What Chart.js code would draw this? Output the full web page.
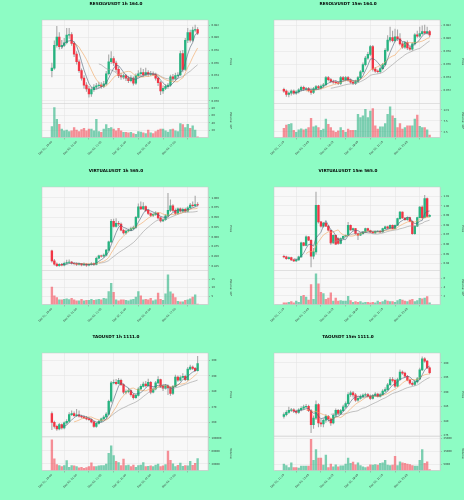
<!DOCTYPE html>
<html>
<head>
<meta charset="utf-8">
<script src="https://cdn.jsdelivr.net/npm/chart.js@4.4.1/dist/chart.umd.min.js"></script>
<style>
  html, body { margin: 0; padding: 0; background: #8dfcc4; }
  #wrap { position: relative; width: 464px; height: 500px; overflow: hidden; }
  .cell { position: absolute; width: 232px; height: 167px; }
</style>
</head>
<body>
<div id="wrap"></div>
<script>
// x tick labels (every 10th candle)
const ticks1h = ['Dec 01, 15:00', 'Dec 02, 01:00', 'Dec 02, 11:00', 'Dec 02, 21:00', 'Dec 03, 07:00', 'Dec 03, 17:00'];
const ticks15m = ['Dec 03, 11:15', 'Dec 03, 13:45', 'Dec 03, 16:15', 'Dec 03, 18:45', 'Dec 03, 21:15', 'Dec 03, 23:45'];

// ---- RESOLVUSDT 1h ----
const resolv1hOpen = [
  .07480,.07520,.07880,.08010,.07860,.07880,.07920,.08040,.08050,.07910,
  .07740,.07620,.07480,.07360,.07250,.07190,.07110,.07180,.07220,.07240,
  .07250,.07230,.07270,.07430,.07620,.07670,.07600,.07500,.07400,.07380,
  .07400,.07360,.07320,.07360,.07280,.07400,.07430,.07450,.07410,.07450,
  .07420,.07430,.07420,.07360,.07290,.07160,.07200,.07230,.07250,.07380,
  .07350,.07400,.07410,.07750,.07500,.07960,.08080,.07960,.08120,.08130];
const resolv1hHigh = [
  .07600,.07950,.08180,.08080,.07960,.07990,.08150,.08150,.08080,.07940,
  .07780,.07650,.07510,.07400,.07290,.07230,.07210,.07260,.07280,.07300,
  .07290,.07310,.07470,.07730,.07780,.07700,.07630,.07540,.07440,.07430,
  .07420,.07390,.07400,.07380,.07430,.07480,.07520,.07500,.07520,.07480,
  .07470,.07460,.07440,.07380,.07310,.07240,.07260,.07280,.07410,.07420,
  .07440,.07450,.07790,.07800,.07990,.08150,.08120,.08170,.08200,.08160];
const resolv1hLow = [
  .07380,.07500,.07850,.07820,.07830,.07860,.07900,.07990,.07880,.07700,
  .07580,.07450,.07330,.07200,.07150,.07060,.07070,.07150,.07190,.07210,
  .07200,.07210,.07250,.07410,.07590,.07560,.07460,.07370,.07340,.07350,
  .07320,.07290,.07300,.07250,.07260,.07380,.07400,.07390,.07400,.07390,
  .07400,.07400,.07330,.07240,.07100,.07120,.07180,.07200,.07230,.07320,
  .07330,.07380,.07400,.07460,.07480,.07920,.07930,.07940,.08090,.08050];
const resolv1hClose = [
  .07520,.07880,.08010,.07860,.07880,.07920,.08040,.08050,.07910,.07740,
  .07620,.07480,.07360,.07250,.07190,.07110,.07180,.07220,.07240,.07250,
  .07230,.07270,.07430,.07620,.07670,.07600,.07500,.07400,.07380,.07400,
  .07360,.07320,.07360,.07280,.07400,.07430,.07450,.07410,.07450,.07420,
  .07430,.07420,.07360,.07290,.07160,.07200,.07230,.07250,.07380,.07350,
  .07400,.07410,.07750,.07500,.07960,.08080,.07960,.08120,.08130,.08070];
const resolv1hVolume = [ // x 1e6
  30,82,50,36,23,18,20,16,18,27,
  20,16,22,25,18,23,23,18,50,16,
  14,23,35,25,27,23,18,25,18,14,
  14,13,14,11,9,16,15,13,11,20,
  13,11,16,20,23,23,18,15,22,23,
  18,16,38,35,27,36,25,32,20,2];
const resolv1hPriceTicks = [0.070, 0.072, 0.074, 0.076, 0.078, 0.080, 0.082];
const resolv1hVolTicks = [20, 40, 60, 80];

// ---- RESOLVUSDT 15m ----
const resolv15mOpen = [
  .0722,.0719,.0714,.0716,.0719,.0716,.0718,.0721,.0725,.0722,
  .0723,.0720,.0717,.0723,.0726,.0724,.0727,.0729,.0740,.0737,
  .0734,.0733,.0732,.0731,.0740,.0737,.0740,.0736,.0733,.0731,
  .0734,.0740,.0749,.0760,.0770,.0776,.0788,.0753,.0750,.0749,
  .0754,.0760,.0782,.0798,.0802,.0797,.0803,.0800,.0792,.0787,
  .0794,.0786,.0784,.0792,.0806,.0804,.0808,.0811,.0809,.0811];
const resolv15mHigh = [
  .0724,.0721,.0718,.0721,.0721,.0720,.0723,.0727,.0727,.0725,
  .0725,.0724,.0725,.0728,.0728,.0729,.0731,.0742,.0742,.0739,
  .0736,.0735,.0734,.0742,.0742,.0742,.0742,.0738,.0735,.0736,
  .0742,.0751,.0763,.0773,.0779,.0790,.0790,.0756,.0752,.0756,
  .0762,.0785,.0805,.0818,.0812,.0815,.0814,.0808,.0795,.0796,
  .0797,.0788,.0794,.0808,.0812,.0818,.0820,.0821,.0818,.0813];
const resolv15mLow = [
  .0717,.0711,.0710,.0713,.0714,.0714,.0716,.0719,.0720,.0720,
  .0718,.0714,.0715,.0721,.0722,.0722,.0725,.0727,.0735,.0732,
  .0731,.0730,.0729,.0729,.0735,.0735,.0734,.0731,.0729,.0729,
  .0732,.0738,.0747,.0758,.0768,.0774,.0750,.0748,.0747,.0747,
  .0752,.0758,.0780,.0795,.0795,.0795,.0797,.0790,.0785,.0785,
  .0783,.0782,.0782,.0790,.0802,.0802,.0806,.0807,.0807,.0803];
const resolv15mClose = [
  .0719,.0714,.0716,.0719,.0716,.0718,.0721,.0725,.0722,.0723,
  .0720,.0717,.0723,.0726,.0724,.0727,.0729,.0740,.0737,.0734,
  .0733,.0732,.0731,.0740,.0737,.0740,.0736,.0733,.0731,.0734,
  .0740,.0749,.0760,.0770,.0776,.0788,.0753,.0750,.0749,.0754,
  .0760,.0782,.0798,.0802,.0797,.0803,.0800,.0792,.0787,.0794,
  .0786,.0784,.0792,.0806,.0804,.0808,.0811,.0809,.0811,.0806];
const resolv15mVolume = [ // x 1e6
  4.1,5.6,6.0,6.3,3.3,2.3,3.5,3.9,3.5,3.8,
  4.5,8.7,4.8,5.3,4.5,3.3,3.8,8.3,6.0,4.5,
  3.0,2.3,3.0,4.5,3.3,2.3,3.8,3.3,3.3,3.3,
  10.5,9.0,9.8,12.8,9.0,12.0,13.1,5.3,3.8,4.8,
  4.8,6.3,10.5,13.9,9.8,8.7,4.5,6.3,3.8,4.5,
  5.3,5.3,5.3,8.3,10.1,5.1,4.5,4.5,3.5,1.1];
const resolv15mPriceTicks = [0.072, 0.074, 0.076, 0.078, 0.080, 0.082];
const resolv15mVolTicks = [2.5, 5.0, 7.5, 10.0, 12.5, 15.0];

// ---- VIRTUALUSDT 1h ----
const virtual1hOpen = [
  .864,.838,.830,.826,.829,.827,.832,.834,.835,.832,
  .831,.829,.831,.828,.830,.827,.829,.831,.829,.845,
  .851,.850,.853,.866,.887,.940,.927,.935,.933,.917,
  .910,.915,.917,.921,.924,.950,.977,.972,.978,.968,
  .960,.955,.958,.961,.949,.941,.944,.954,.968,.980,
  .968,.960,.972,.966,.971,.966,.975,.982,.980,.983];
const virtual1hHigh = [
  .866,.842,.833,.831,.832,.835,.840,.841,.837,.834,
  .833,.833,.832,.833,.831,.831,.834,.833,.848,.853,
  .853,.856,.868,.889,.945,.946,.947,.940,.936,.920,
  .918,.920,.925,.928,.953,.985,.990,.988,.980,.970,
  .962,.961,.965,.963,.951,.947,.957,1.012,.995,.983,
  .972,.975,.975,.974,.974,.978,.986,.990,1.005,.988];
const virtual1hLow = [
  .835,.827,.823,.824,.825,.825,.830,.832,.830,.828,
  .826,.827,.825,.826,.824,.825,.827,.826,.828,.843,
  .848,.848,.851,.864,.885,.925,.925,.928,.915,.907,
  .907,.913,.915,.919,.922,.948,.970,.970,.965,.957,
  .952,.952,.955,.946,.938,.939,.942,.950,.965,.965,
  .957,.958,.963,.963,.963,.964,.973,.977,.978,.979];
const virtual1hClose = [
  .838,.830,.826,.829,.827,.832,.834,.835,.832,.831,
  .829,.831,.828,.830,.827,.829,.831,.829,.845,.851,
  .850,.853,.866,.887,.940,.927,.935,.933,.917,.910,
  .915,.917,.921,.924,.950,.977,.972,.978,.968,.960,
  .955,.958,.961,.949,.941,.944,.954,.968,.980,.968,
  .960,.972,.966,.971,.966,.975,.982,.980,.983,.982];
const virtual1hVolume = [ // x 1e6
  10.2,5.1,4.1,2.7,2.7,3.1,3.3,2.9,3.7,2.7,
  2.2,2.2,3.1,2.2,2.4,2.4,3.1,2.4,2.7,3.1,
  2.7,3.7,3.3,7.6,12.5,7.1,2.7,2.2,2.7,2.7,
  2.4,2.2,2.7,3.1,4.3,7.6,5.1,2.7,3.1,2.7,
  3.7,2.2,2.7,6.7,3.1,2.4,6.3,17.4,7.4,6.3,
  4.1,1.8,1.6,1.6,2.4,2.7,3.3,4.3,5.7,0.3];
const virtual1hPriceTicks = [0.825, 0.850, 0.875, 0.900, 0.925, 0.950, 0.975, 1.000];
const virtual1hVolTicks = [5, 10, 15];

// ---- VIRTUALUSDT 15m ----
const virtual15mOpen = [
  .9477,.9470,.9453,.9463,.9440,.9429,.9440,.9470,.9616,.9591,
  .9678,.9643,.9477,.9522,1.0007,.9834,.9789,.9823,.9790,.9747,
  .9616,.9695,.9660,.9610,.9661,.9685,.9695,.9799,.9750,.9764,
  .9712,.9695,.9712,.9730,.9764,.9745,.9728,.9719,.9737,.9740,
  .9730,.9764,.9782,.9770,.9799,.9765,.9799,.9868,.9937,.9875,
  .9858,.9880,.9840,.9712,.9789,.9879,.9989,.9879,1.0076,.9892];
const virtual15mHigh = [
  .9490,.9480,.9470,.9468,.9445,.9448,.9478,.9625,.9622,.9690,
  .9685,.9650,.9560,1.0145,1.0010,.9840,.9830,.9830,.9795,.9750,
  .9700,.9700,.9668,.9668,.9690,.9700,.9830,.9805,.9770,.9768,
  .9718,.9718,.9735,.9770,.9770,.9750,.9732,.9740,.9745,.9745,
  .9770,.9790,.9790,.9805,.9805,.9805,.9875,.9945,.9940,.9880,
  .9885,.9885,.9845,.9795,.9885,.9995,1.0000,1.0110,1.0085,.9910];
const virtual15mLow = [
  .9460,.9445,.9448,.9432,.9420,.9422,.9435,.9465,.9585,.9585,
  .9638,.9366,.9450,.9500,.9820,.9780,.9780,.9785,.9740,.9600,
  .9610,.9598,.9600,.9605,.9655,.9680,.9690,.9745,.9745,.9705,
  .9650,.9690,.9705,.9725,.9740,.9722,.9715,.9715,.9730,.9725,
  .9725,.9760,.9765,.9765,.9760,.9760,.9795,.9860,.9870,.9850,
  .9850,.9835,.9705,.9705,.9785,.9875,.9870,.9875,.9885,.9885];
const virtual15mClose = [
  .9470,.9453,.9463,.9440,.9429,.9440,.9470,.9616,.9591,.9678,
  .9643,.9477,.9522,1.0007,.9834,.9789,.9823,.9790,.9747,.9616,
  .9695,.9602,.9610,.9661,.9685,.9695,.9799,.9750,.9764,.9712,
  .9695,.9712,.9730,.9764,.9745,.9728,.9719,.9737,.9740,.9730,
  .9764,.9782,.9770,.9799,.9765,.9799,.9868,.9937,.9875,.9858,
  .9880,.9840,.9712,.9789,.9879,.9989,.9879,1.0076,.9892,.9903];
const virtual15mVolume = [ // x 1e6
  0.4,0.4,0.5,0.7,0.4,0.8,0.5,1.9,2.1,1.7,
  1.0,4.6,1.2,7.1,4.8,2.8,2.5,1.2,1.5,2.7,
  0.8,1.5,0.8,0.9,0.8,0.8,1.9,0.9,0.5,0.7,
  0.5,0.7,0.4,0.5,0.5,0.4,0.5,0.4,0.8,0.5,
  0.7,1.0,0.8,0.7,0.7,0.5,0.9,1.2,1.0,0.8,
  0.7,1.0,1.2,0.7,0.9,1.4,1.3,1.5,1.8,0.4];
const virtual15mPriceTicks = [0.94, 0.95, 0.96, 0.97, 0.98, 0.99, 1.00, 1.01];
const virtual15mVolTicks = [2, 4, 6];

// ---- TAOUSDT 1h ----
const tao1hOpen = [
  265.8,260.2,257.6,255.9,258.7,256.6,259.8,260.9,265.1,265.8,
  264.5,265.0,264.1,263.6,263.0,262.4,261.9,260.5,257.6,259.5,
  260.9,262.4,263.6,265.5,273.7,285.5,285.9,285.0,287.2,284.4,
  279.5,279.9,280.6,277.9,276.0,277.5,281.6,283.3,284.8,283.7,
  285.9,279.5,281.6,285.5,287.6,283.3,282.2,283.7,282.5,278.8,
  283.3,289.3,287.2,289.0,289.7,287.6,294.4,295.7,294.8,293.3];
const tao1hHigh = [
  267.0,261.0,258.5,259.5,259.2,260.5,262.0,266.5,267.5,267.0,
  268.5,267.5,264.8,264.5,264.0,263.2,262.5,261.0,260.0,261.5,
  263.0,264.5,266.5,274.5,286.5,287.5,287.8,288.5,288.0,285.0,
  281.0,282.0,281.0,278.5,278.2,282.5,284.5,286.0,286.5,288.0,
  286.5,282.5,286.5,289.5,288.0,284.5,284.5,284.2,283.0,284.0,
  290.5,290.0,290.0,291.5,290.5,295.5,297.0,296.5,295.5,302.6];
const tao1hLow = [
  255.5,256.5,255.0,255.3,255.8,256.0,259.0,260.5,264.5,264.0,
  264.0,263.5,263.0,262.5,261.8,261.2,259.8,257.0,257.0,259.0,
  260.5,262.0,263.0,265.0,273.0,284.8,284.2,284.8,283.8,278.5,
  278.5,279.0,277.0,275.0,275.5,277.0,281.0,282.8,283.0,283.2,
  278.5,279.0,281.0,285.0,282.5,280.5,281.5,278.0,277.5,278.0,
  283.0,286.5,286.8,288.5,287.0,287.0,293.8,294.0,292.8,293.0];
const tao1hClose = [
  260.2,257.6,255.9,258.7,256.6,259.8,260.9,265.1,265.8,264.5,
  265.0,264.1,263.6,263.0,262.4,261.9,260.5,257.6,259.5,260.9,
  262.4,263.6,265.5,273.7,285.5,285.9,285.0,287.2,284.4,279.5,
  279.9,280.6,277.9,276.0,277.5,281.6,283.3,284.8,283.7,285.9,
  279.5,281.6,285.5,287.6,283.3,282.2,283.7,282.5,278.8,283.3,
  289.3,287.2,289.0,289.7,287.6,294.4,295.7,294.8,293.3,297.9];
const tao1hVolume = [
  94000,36000,18500,15400,12300,15400,30800,10000,15000,14000,
  12000,8000,10000,7000,9000,12000,23600,12000,12000,14000,
  15000,15000,20000,53000,76000,46000,28000,24000,15000,35000,
  15000,17000,12000,17000,10000,15000,17000,24000,12000,13000,
  14000,12000,17000,20000,12000,14000,18000,59500,31000,20500,
  12000,16000,22500,13000,15000,14000,28000,16000,22000,37000];
const tao1hPriceTicks = [260, 270, 280, 290, 300];
const tao1hVolTicks = [20000, 40000, 60000, 80000, 100000];

// ---- TAOUSDT 15m ----
const tao15mOpen = [
  281.6,282.2,283.0,283.7,283.9,283.4,283.0,283.9,284.4,284.9,
  285.1,283.6,278.8,281.0,285.7,279.4,279.0,280.3,281.6,280.7,
  279.4,282.0,283.7,282.6,283.6,284.9,286.0,289.1,289.7,289.0,
  287.2,287.8,288.4,288.9,289.1,288.6,287.8,288.8,289.3,288.5,
  289.1,290.3,290.8,292.5,294.3,294.0,292.0,294.3,296.8,296.5,
  295.4,294.1,293.0,292.6,293.5,294.5,297.6,301.4,300.6,298.3];
const tao15mHigh = [
  282.8,283.6,284.8,284.4,284.3,283.8,284.3,285.0,285.5,285.8,
  285.5,284.0,281.8,287.0,286.0,280.5,280.8,282.2,282.0,281.0,
  282.5,284.2,284.0,284.0,285.5,286.6,289.8,290.3,290.2,289.5,
  288.4,289.0,289.4,289.6,289.5,289.0,289.2,289.8,289.6,289.6,
  290.8,291.5,293.0,295.0,295.0,294.4,294.8,297.6,297.3,296.8,
  295.7,294.4,293.5,294.0,295.0,298.2,302.1,301.8,300.9,298.6];
const tao15mLow = [
  281.0,281.8,282.6,283.2,282.9,282.5,282.6,283.5,284.0,284.6,
  283.2,276.0,277.5,280.5,278.0,278.2,278.0,279.5,280.0,278.5,
  279.0,281.5,282.2,282.2,283.2,284.5,285.8,288.5,288.2,286.8,
  286.8,287.5,288.0,288.6,288.2,287.4,287.5,288.5,288.2,288.2,
  288.8,290.0,290.5,292.2,293.5,291.5,291.8,294.0,296.0,295.0,
  293.8,292.6,292.2,292.2,293.0,294.2,297.3,300.2,298.0,296.2];
const tao15mClose = [
  282.2,283.0,283.7,283.9,283.4,283.0,283.9,284.4,284.9,285.1,
  283.6,278.8,281.0,285.7,279.4,279.0,280.3,281.6,280.7,279.4,
  282.0,283.7,282.6,283.6,284.9,286.0,289.1,289.7,289.0,287.2,
  287.8,288.4,288.9,289.1,288.6,287.8,288.8,289.3,288.5,289.1,
  290.3,290.8,292.5,294.3,294.0,292.0,294.3,296.8,296.5,295.4,
  294.1,293.0,292.6,293.5,294.5,297.6,301.4,300.6,298.3,296.6];
const tao15mVolume = [
  5000,3900,2300,6000,2300,2300,1800,3400,3400,3400,
  3400,24200,8000,16400,9600,9600,4200,12000,2300,5000,
  2900,4400,2900,3600,3600,5000,9600,5500,6500,4400,
  6000,3900,2900,2300,2900,4400,4200,4700,4200,5500,
  6000,8000,4200,3900,4200,11000,3900,6700,6000,5500,
  5000,4700,3900,3400,3400,8000,16400,5500,6700,800];
const tao15mPriceTicks = [275, 280, 285, 290, 295, 300];
const tao15mVolTicks = [5000, 10000, 15000, 20000, 25000];

const maPeriods = [5, 10, 20];

const UP = '#26b380', DOWN = '#f23645';
const UP_VOL = 'rgba(38,179,128,0.6)', DOWN_VOL = 'rgba(242,54,69,0.55)';
const MA_COLORS = ['#4d6275', '#f2a45e', '#9a9a9a'];
const GRID = '#e3e3e3';

Chart.defaults.font.family = '"DejaVu Sans", sans-serif';
Chart.defaults.color = '#333';
Chart.defaults.animation = false;

const panels = [
  { title: 'RESOLVUSDT 1h 164.0', o: resolv1hOpen, h: resolv1hHigh, l: resolv1hLow, c: resolv1hClose, v: resolv1hVolume,
    xt: ticks1h, pt: resolv1hPriceTicks, pmin: 0.0696, pmax: 0.0828, pd: 3,
    vt: resolv1hVolTicks, vmax: 93, vd: 0, vtitle: 'Volume  10\u2076' },
  { title: 'RESOLVUSDT 15m 164.0', o: resolv15mOpen, h: resolv15mHigh, l: resolv15mLow, c: resolv15mClose, v: resolv15mVolume,
    xt: ticks15m, pt: resolv15mPriceTicks, pmin: 0.0700, pmax: 0.0829, pd: 3,
    vt: resolv15mVolTicks, vmax: 15.4, vd: 1, vtitle: 'Volume  10\u2076' },
  { title: 'VIRTUALUSDT 1h 565.0', o: virtual1hOpen, h: virtual1hHigh, l: virtual1hLow, c: virtual1hClose, v: virtual1hVolume,
    xt: ticks1h, pt: virtual1hPriceTicks, pmin: 0.8134, pmax: 1.0283, pd: 3,
    vt: virtual1hVolTicks, vmax: 20, vd: 0, vtitle: 'Volume  10\u2076' },
  { title: 'VIRTUALUSDT 15m 565.0', o: virtual15mOpen, h: virtual15mHigh, l: virtual15mLow, c: virtual15mClose, v: virtual15mVolume,
    xt: ticks15m, pt: virtual15mPriceTicks, pmin: 0.9329, pmax: 1.0197, pd: 2,
    vt: virtual15mVolTicks, vmax: 7.85, vd: 0, vtitle: 'Volume  10\u2076' },
  { title: 'TAOUSDT 1h 1111.0', o: tao1hOpen, h: tao1hHigh, l: tao1hLow, c: tao1hClose, v: tao1hVolume,
    xt: ticks1h, pt: tao1hPriceTicks, pmin: 251.1, pmax: 304.7, pd: 0,
    vt: tao1hVolTicks, vmax: 104600, vd: 0, vtitle: 'Volume' },
  { title: 'TAOUSDT 15m 1111.0', o: tao15mOpen, h: tao15mHigh, l: tao15mLow, c: tao15mClose, v: tao15mVolume,
    xt: ticks15m, pt: tao15mPriceTicks, pmin: 274.7, pmax: 303.4, pd: 0,
    vt: tao15mVolTicks, vmax: 26500, vd: 0, vtitle: 'Volume' }
];

function sma(arr, n) {
  return arr.map((_, i) => {
    if (i < n - 1) return null;
    let s = 0;
    for (let k = i - n + 1; k <= i; k++) s += arr[k];
    return s / n;
  });
}

// plot background, separator between price and volume, and the panel title
const panelDeco = {
  id: 'panelDeco',
  beforeDraw(chart) {
    const { ctx, chartArea: a } = chart;
    ctx.save();
    ctx.fillStyle = '#f8f8f8';
    ctx.fillRect(a.left, a.top, a.right - a.left, a.bottom - a.top);
    ctx.restore();
  },
  afterDraw(chart) {
    const { ctx, chartArea: a } = chart;
    const yb = chart.scales.y.bottom;
    ctx.save();
    ctx.strokeStyle = '#c8c8c8';
    ctx.lineWidth = 0.5;
    ctx.strokeRect(a.left, a.top, a.right - a.left, a.bottom - a.top);
    ctx.beginPath();
    ctx.moveTo(a.left, yb);
    ctx.lineTo(a.right, yb);
    ctx.stroke();
    ctx.fillStyle = '#000';
    ctx.font = 'bold 4.2px "DejaVu Sans"';
    ctx.textAlign = 'center';
    ctx.textBaseline = 'middle';
    ctx.fillText(chart.options.plugins.panelDeco.title, 116, 3.5);
    ctx.restore();
  }
};

const wrap = document.getElementById('wrap');
const tickFont = { size: 2.6 };

panels.forEach((p, k) => {
  const cell = document.createElement('div');
  cell.className = 'cell';
  cell.style.left = (k % 2) * 232 + 'px';
  cell.style.top = [0, 167, 333][Math.floor(k / 2)] + 'px';
  const cv = document.createElement('canvas');
  cv.width = 232; cv.height = 167;
  cell.appendChild(cv);
  wrap.appendChild(cell);

  const up = p.c.map((c, i) => c >= p.o[i]);
  const datasets = [
    { type: 'bar', label: 'body', data: p.o.map((o, i) => ({ x: i, y: [o, p.c[i]] })),
      backgroundColor: up.map(u => u ? UP : DOWN), barThickness: 1.7, grouped: false, yAxisID: 'y', order: 2 },
    { type: 'bar', label: 'wick', data: p.l.map((l, i) => ({ x: i, y: [l, p.h[i]] })),
      backgroundColor: '#a8a8a8', barThickness: 0.45, grouped: false, yAxisID: 'y', order: 3 },
    { type: 'bar', label: 'volume', data: p.v.map((v, i) => ({ x: i, y: v })),
      backgroundColor: up.map(u => u ? UP_VOL : DOWN_VOL), barThickness: 1.7, grouped: false, yAxisID: 'v', order: 2 }
  ];
  maPeriods.forEach((n, j) => {
    datasets.push({ type: 'line', label: 'MA' + n, data: sma(p.c, n).map((m, i) => ({ x: i, y: m })),
      borderColor: MA_COLORS[j], borderWidth: 0.6, pointRadius: 0, tension: 0, yAxisID: 'y', order: 0 });
  });

  new Chart(cv, {
    type: 'bar',
    data: { datasets },
    options: {
      responsive: false,
      devicePixelRatio: 1,
      layout: { padding: { top: 20, left: 42, right: 0, bottom: 0 } },
      plugins: { legend: { display: false }, tooltip: { enabled: false }, panelDeco: { title: p.title } },
      scales: {
        x: {
          type: 'linear', min: -4, max: 63.2, offset: false,
          afterBuildTicks: s => { s.ticks = [0, 10, 20, 30, 40, 50].map(v => ({ value: v })); },
          afterFit: s => { s.height = 29.5; },
          ticks: { font: tickFont, color: '#333', minRotation: 45, maxRotation: 45, padding: 1, autoSkip: false,
                   callback: v => p.xt[Math.round(v / 10)] },
          grid: { color: GRID, lineWidth: 0.5, tickLength: 2, tickColor: '#888' },
          border: { color: '#c8c8c8', width: 0.5 }
        },
        y: {
          position: 'right', stack: 'panel', stackWeight: 2.456, min: p.pmin, max: p.pmax,
          afterBuildTicks: s => { s.ticks = p.pt.map(v => ({ value: v })); },
          afterFit: s => { s.width = 24; },
          ticks: { font: tickFont, color: '#333', padding: 1.5, callback: v => v.toFixed(p.pd) },
          title: { display: true, text: 'Price', font: { size: 2.8 }, padding: 0 },
          grid: { color: GRID, lineWidth: 0.5, tickLength: 2, tickColor: '#888' },
          border: { color: '#c8c8c8', width: 0.5 }
        },
        v: {
          position: 'right', stack: 'panel', stackWeight: 1, min: 0, max: p.vmax,
          afterBuildTicks: s => { s.ticks = p.vt.map(v => ({ value: v })); },
          afterFit: s => { s.width = 24; },
          ticks: { font: tickFont, color: '#333', padding: 1.5, callback: v => v.toFixed(p.vd) },
          title: { display: true, text: p.vtitle, font: { size: 2.8 }, padding: 0 },
          grid: { color: GRID, lineWidth: 0.5, tickLength: 2, tickColor: '#888' },
          border: { color: '#c8c8c8', width: 0.5 }
        }
      }
    },
    plugins: [panelDeco]
  });
});
</script>
</body>
</html>
